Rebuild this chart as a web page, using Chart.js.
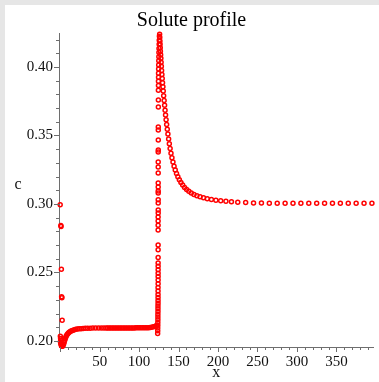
<!DOCTYPE html>
<html>
<head>
<meta charset="utf-8">
<title>Solute profile</title>
<script src="https://cdn.jsdelivr.net/npm/chart.js@4.4.1/dist/chart.umd.min.js"></script>
<style>
  html, body { margin: 0; padding: 0; background: #e6e6e6; }
  .chart-container { position: absolute; left: 5px; top: 5px; width: 374px; height: 377px; background: #fff; }
</style>
</head>
<body>
<div class="chart-container"><canvas id="chart"></canvas></div>
<script>
// points, [x, c]
// near the wall (x ~ 0)
const wallPoints = [
  [0.0, 0.2995], [0.8, 0.2843], [1.1, 0.2836], [1.5, 0.2523], [1.8, 0.2322], [2.2, 0.2316], [2.5, 0.2152],
  [0.2, 0.2035], [0.5, 0.2018], [0.8, 0.2005], [0.3, 0.1995], [0.7, 0.1982], [1.2, 0.1972], [1.7, 0.1965],
  [2.3, 0.1961], [3.0, 0.1962], [3.7, 0.1968], [4.4, 0.1978], [5.0, 0.1990], [5.6, 0.2003], [6.2, 0.2015],
  [6.9, 0.2026], [7.7, 0.2036], [8.6, 0.2045], [9.6, 0.2053], [10.7, 0.2060], [11.9, 0.2066], [13.2, 0.2071],
  [14.7, 0.2075], [16.3, 0.2079], [18.0, 0.2082], [19.8, 0.2085], [21.8, 0.2087], [24.0, 0.2089], [26.4, 0.2090],
  [29.0, 0.2091], [31.8, 0.2092], [34.8, 0.2093], [38.0, 0.2093], [41.4, 0.2094], [45.0, 0.2094], [48.6, 0.2094],
  [52.0, 0.2094], [55.2, 0.2094]
];
// plateau ahead of the front
const plateauPoints = [
  [58, 0.2094], [60, 0.2094], [62, 0.2094], [64, 0.2094], [66, 0.2094], [68, 0.2094], [70, 0.2095], [72, 0.2095],
  [74, 0.2095], [76, 0.2095], [78, 0.2095], [80, 0.2095], [82, 0.2095], [84, 0.2095], [86, 0.2095], [88, 0.2095],
  [90, 0.2095], [92, 0.2095], [94, 0.2095], [96, 0.2096], [98, 0.2096], [100, 0.2096], [102, 0.2096], [104, 0.2096],
  [106, 0.2096], [108, 0.2096], [110, 0.2097], [112, 0.2097], [114, 0.2098], [116, 0.2101], [118, 0.2103],
  [120, 0.2106], [121.5, 0.2110], [122.5, 0.2114]
];
// the front itself
const frontPoints = [
  [123.5, 0.2055], [123.6, 0.2075], [123.6, 0.2095], [123.7, 0.2115], [123.7, 0.2135], [123.8, 0.2155],
  [123.8, 0.2175], [123.8, 0.2195], [123.9, 0.2215], [123.9, 0.2235], [123.9, 0.2255], [124.0, 0.2275],
  [124.0, 0.2295], [124.0, 0.2318], [124.0, 0.2340], [124.0, 0.2365], [124.0, 0.2390], [124.1, 0.2418],
  [124.1, 0.2445], [124.1, 0.2470], [124.1, 0.2495], [124.1, 0.2520], [124.1, 0.2545], [124.1, 0.2570],
  [124.1, 0.2610], [124.1, 0.2665], [124.1, 0.2700], [124.1, 0.2810], [124.1, 0.2845], [124.1, 0.2875],
  [124.1, 0.2905], [124.2, 0.2934], [124.2, 0.2956], [124.2, 0.3007], [124.2, 0.3030], [124.2, 0.3080],
  [124.2, 0.3095], [124.2, 0.3124], [124.2, 0.3153], [124.2, 0.3226], [124.2, 0.3270], [124.2, 0.3307],
  [124.2, 0.3380], [124.3, 0.3394], [124.3, 0.3467], [124.3, 0.3540], [124.3, 0.3562], [124.4, 0.3708],
  [124.4, 0.3759], [124.4, 0.3830], [124.5, 0.3865], [124.5, 0.3895], [124.6, 0.3925], [124.6, 0.3955],
  [124.7, 0.3985], [124.8, 0.4015], [124.9, 0.4045], [125.0, 0.4075], [125.1, 0.4105], [125.2, 0.4135],
  [125.4, 0.4165], [125.5, 0.4195], [125.7, 0.4225]
];
// decay behind the front and the far field
const tailPoints = [
  [126.0, 0.4238], [126.2, 0.4215], [126.4, 0.4190], [126.6, 0.4165], [126.8, 0.4140], [127.0, 0.4115],
  [127.3, 0.4090], [127.6, 0.4063], [127.9, 0.4035], [128.2, 0.4005], [128.5, 0.3975], [128.9, 0.3945],
  [129.3, 0.3915], [129.7, 0.3885], [130.2, 0.3855], [130.6, 0.3825], [131.1, 0.3790], [131.7, 0.3755],
  [132.3, 0.3720], [132.9, 0.3685], [133.5, 0.3650], [134.2, 0.3615], [134.9, 0.3580], [135.7, 0.3545],
  [136.5, 0.3510], [137.4, 0.3475], [138.3, 0.3440], [139.3, 0.3405], [140.4, 0.3370], [141.6, 0.3338],
  [142.9, 0.3306], [144.3, 0.3276], [145.8, 0.3248], [147.4, 0.3222], [149.1, 0.3198], [151.0, 0.3176],
  [153.0, 0.3156], [155.2, 0.3138], [157.6, 0.3121], [160.2, 0.3106], [163.0, 0.3092], [166.1, 0.3080],
  [169.5, 0.3069], [173.2, 0.3060], [177.2, 0.3052], [181.6, 0.3045], [186.4, 0.3039], [191.6, 0.3033],
  [197.3, 0.3028], [203.4, 0.3023], [210.0, 0.3020], [217.0, 0.3016], [225.0, 0.3013], [235.0, 0.3010],
  [245, 0.3008], [255, 0.3007], [265, 0.3006], [275, 0.3006], [285, 0.3005], [295, 0.3005], [305, 0.3005],
  [315, 0.3005], [325, 0.3005], [335, 0.3005], [345, 0.3005], [355, 0.3005], [365, 0.3005], [375, 0.3005],
  [385, 0.3005], [395, 0.3005]
];

const xTickValues = [50, 100, 150, 200, 250, 300, 350];
const yTickValues = [0.20, 0.25, 0.30, 0.35, 0.40];

const AXIS_COLOR = '#6e6e6e';
const TEXT_COLOR = '#111';
const FONT = '"Liberation Serif", "Times New Roman", serif';

const points = [...wallPoints, ...plateauPoints, ...frontPoints, ...tailPoints]
  .map(([x, c]) => ({ x, y: c }));

// minor/major tick marks and the upright "c" label
const axisDecor = {
  id: 'axisDecor',
  afterDraw(chart) {
    const { ctx, scales: { x, y } } = chart;
    ctx.save();
    ctx.strokeStyle = AXIS_COLOR;
    ctx.lineWidth = 1;
    ctx.beginPath();
    for (let v = 0; v <= x.max; v += 10) {
      const px = Math.round(x.getPixelForValue(v)) + 0.5;
      const len = v % 50 === 0 ? 5 : 3;
      ctx.moveTo(px, x.top);
      ctx.lineTo(px, x.top + len);
    }
    for (let i = 20; i <= 42; i++) {
      const py = Math.round(y.getPixelForValue(i / 100)) + 0.5;
      const len = i % 5 === 0 ? 5 : 3;
      ctx.moveTo(y.right, py);
      ctx.lineTo(y.right - len, py);
    }
    ctx.stroke();
    ctx.fillStyle = TEXT_COLOR;
    ctx.font = '16px ' + FONT;
    ctx.textAlign = 'center';
    ctx.textBaseline = 'middle';
    ctx.fillText('c', 13, (y.top + y.bottom) / 2 - 5);
    ctx.restore();
  }
};

new Chart(document.getElementById('chart'), {
  type: 'scatter',
  data: {
    datasets: [{
      label: 'c',
      data: points,
      showLine: false,
      pointStyle: 'circle',
      pointRadius: 2,
      pointBorderWidth: 1.5,
      borderColor: '#ff0000',
      backgroundColor: 'rgba(255,255,255,0)',
      clip: false
    }]
  },
  options: {
    responsive: true,
    maintainAspectRatio: false,
    animation: false,
    events: [],
    layout: { padding: { left: 0, right: 1, top: 0, bottom: 0 } },
    plugins: {
      legend: { display: false },
      tooltip: { enabled: false },
      title: {
        display: true,
        text: 'Solute profile',
        color: '#000',
        font: { family: FONT, size: 20, weight: 'normal' },
        padding: { top: 4, bottom: 0 }
      }
    },
    scales: {
      x: {
        type: 'linear',
        min: -1.5,
        max: 397,
        grid: { display: false, drawTicks: false },
        border: { display: true, color: AXIS_COLOR, width: 1 },
        afterBuildTicks: (scale) => { scale.ticks = xTickValues.map(v => ({ value: v })); },
        afterFit: (scale) => { scale.height = 35; },
        ticks: {
          color: TEXT_COLOR,
          font: { family: FONT, size: 15 },
          padding: 6,
          autoSkip: false,
          maxRotation: 0,
          callback: (v) => String(v)
        },
        title: {
          display: true,
          text: 'x',
          color: TEXT_COLOR,
          font: { family: FONT, size: 16 },
          padding: { top: 0, bottom: 0 }
        }
      },
      y: {
        type: 'linear',
        min: 0.1956,
        max: 0.4248,
        grid: { display: false, drawTicks: false },
        border: { display: true, color: AXIS_COLOR, width: 1 },
        afterBuildTicks: (scale) => { scale.ticks = yTickValues.map(v => ({ value: v })); },
        afterFit: (scale) => { scale.width = 54; },
        ticks: {
          color: TEXT_COLOR,
          font: { family: FONT, size: 15 },
          padding: 6,
          autoSkip: false,
          callback: (v) => v.toFixed(2)
        }
      }
    }
  },
  plugins: [axisDecor]
});
</script>
</body>
</html>
